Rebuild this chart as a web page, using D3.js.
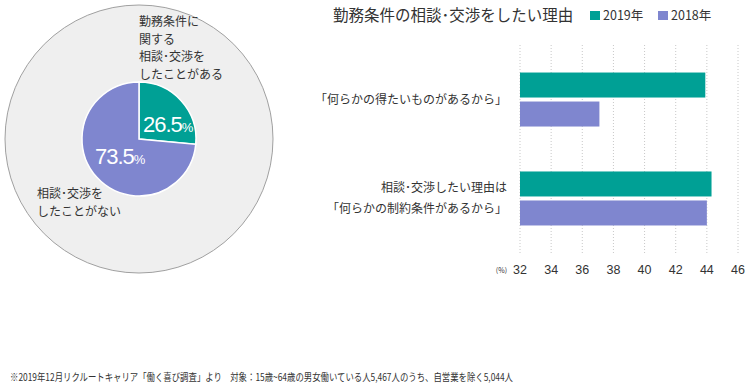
<!DOCTYPE html>
<html>
<head>
<meta charset="utf-8">
<script src="https://cdn.jsdelivr.net/npm/d3@7"></script>
<style>
  body { margin: 0; background: #fff; }
  text { font-family: "Noto Sans CJK JP", "Noto Sans", sans-serif; fill: #333; }
</style>
</head>
<body>
<div id="chart"></div>
<script>
// pie data
const pieLabels = ["ある", "ない"];
const pieValues = [26.5, 73.5];

// bar data
const categories = ["得たい", "制約"];
const series = ["2019年", "2018年"];
const values2019 = [43.9, 44.3];
const values2018 = [37.1, 44.0];
const xTicks = [32, 34, 36, 38, 40, 42, 44, 46];

const teal = "#00a095";
const purple = "#7f86cf";

const width = 750, height = 390;
const svg = d3.select("#chart").append("svg")
    .attr("width", width)
    .attr("height", height);

// ---- pie ----
const cx = 139, cy = 139;
svg.append("circle")
    .attr("cx", cx).attr("cy", cy).attr("r", 134)
    .attr("fill", "#efefef")
    .attr("stroke", "#a0a0a0")
    .attr("stroke-width", 1);

const pie = d3.pie().sort(null)(pieValues);
const arc = d3.arc().innerRadius(0).outerRadius(57);
svg.append("g")
    .attr("transform", `translate(${cx},${cy})`)
    .selectAll("path")
    .data(pie)
    .join("path")
    .attr("d", arc)
    .attr("fill", (d, i) => i == 0 ? teal : purple)
    .attr("stroke", "#fff")
    .attr("stroke-width", 1.5);

function pct(x, y, v) {
    const t = svg.append("text").attr("x", x).attr("y", y)
        .style("font-family", "'Liberation Sans', Arial, sans-serif")
        .style("fill", "#fff");
    t.append("tspan").attr("font-size", 22).style("letter-spacing", "-1px").text(v);
    t.append("tspan").attr("font-size", 13).text("%");
}
pct(143, 132, pieValues[0]);
pct(95, 164, pieValues[1]);

const topLabel = ["勤務条件に", "関する", "相談･交渉を", "したことがある"];
svg.append("g").selectAll("text")
    .data(topLabel)
    .join("text")
    .attr("x", 139)
    .attr("y", (d, i) => 26 + i * 17.5)
    .attr("font-size", 12)
    .text(d => d);

const botLabel = ["相談･交渉を", "したことがない"];
svg.append("g").selectAll("text")
    .data(botLabel)
    .join("text")
    .attr("x", 37)
    .attr("y", (d, i) => 198 + i * 18)
    .attr("font-size", 12)
    .text(d => d);

// ---- bar chart ----
const x = d3.scaleLinear().domain([32, 46]).range([520, 738]);
const y0 = d3.scaleBand().domain(categories).range([55, 243]).paddingInner(0.1);

// title
svg.append("text")
    .attr("x", 333).attr("y", 21)
    .attr("font-size", 15.5)
    .text("勤務条件の相談･交渉をしたい理由");

// legend
const leg = svg.append("g");
series.forEach((s, i) => {
    const lx = 590 + i * 68;
    leg.append("rect").attr("x", lx).attr("y", 11).attr("width", 10).attr("height", 9)
        .attr("fill", i == 0 ? teal : purple);
    leg.append("text").attr("x", lx + 13).attr("y", 20).attr("font-size", 12.5).text(s);
});

// grid
svg.append("g").selectAll("line")
    .data(xTicks)
    .join("line")
    .attr("x1", d => x(d)).attr("x2", d => x(d))
    .attr("y1", 45).attr("y2", 254)
    .attr("stroke", "#c8c8c8")
    .attr("stroke-dasharray", "1,2");

// tick labels
svg.append("g").selectAll("text")
    .data(xTicks)
    .join("text")
    .attr("x", d => x(d))
    .attr("y", 274)
    .attr("text-anchor", "middle")
    .attr("font-size", 12.5)
    .style("font-family", "'Liberation Sans', Arial, sans-serif")
    .text(d => d);
svg.append("text")
    .attr("x", 507).attr("y", 273)
    .attr("text-anchor", "end")
    .attr("font-size", 7)
    .text("(%)");

// bars
const bars = svg.append("g");
categories.forEach((c, i) => {
    const by = y0(c) + y0.bandwidth() / 2;
    const bh = 25;
    bars.append("rect")
        .attr("x", x(32)).attr("y", by - bh - 2)
        .attr("width", x(values2019[i]) - x(32)).attr("height", bh)
        .attr("fill", teal);
    bars.append("rect")
        .attr("x", x(32)).attr("y", by + 2)
        .attr("width", x(values2018[i]) - x(32)).attr("height", bh)
        .attr("fill", purple);
});

// category labels
const catLabels = [["「何らかの得たいものがあるから」"], ["相談･交渉したい理由は", "「何らかの制約条件があるから」"]];
categories.forEach((c, i) => {
    const by = y0(c) + y0.bandwidth() / 2;
    const lines = catLabels[i];
    lines.forEach((l, j) => {
        svg.append("text")
            .attr("x", 507)
            .attr("y", by + 4 + (j - (lines.length - 1) / 2) * 21)
            .attr("text-anchor", "end")
            .attr("font-size", 12)
            .text(l);
    });
});

// footnote
svg.append("text")
    .attr("x", 10).attr("y", 381)
    .attr("font-size", 10.5)
    .attr("textLength", 503)
    .attr("lengthAdjust", "spacingAndGlyphs")
    .text("※2019年12月リクルートキャリア「働く喜び調査」より　対象：15歳~64歳の男女働いている人5,467人のうち、自営業を除く5,044人");
</script>
</body>
</html>
